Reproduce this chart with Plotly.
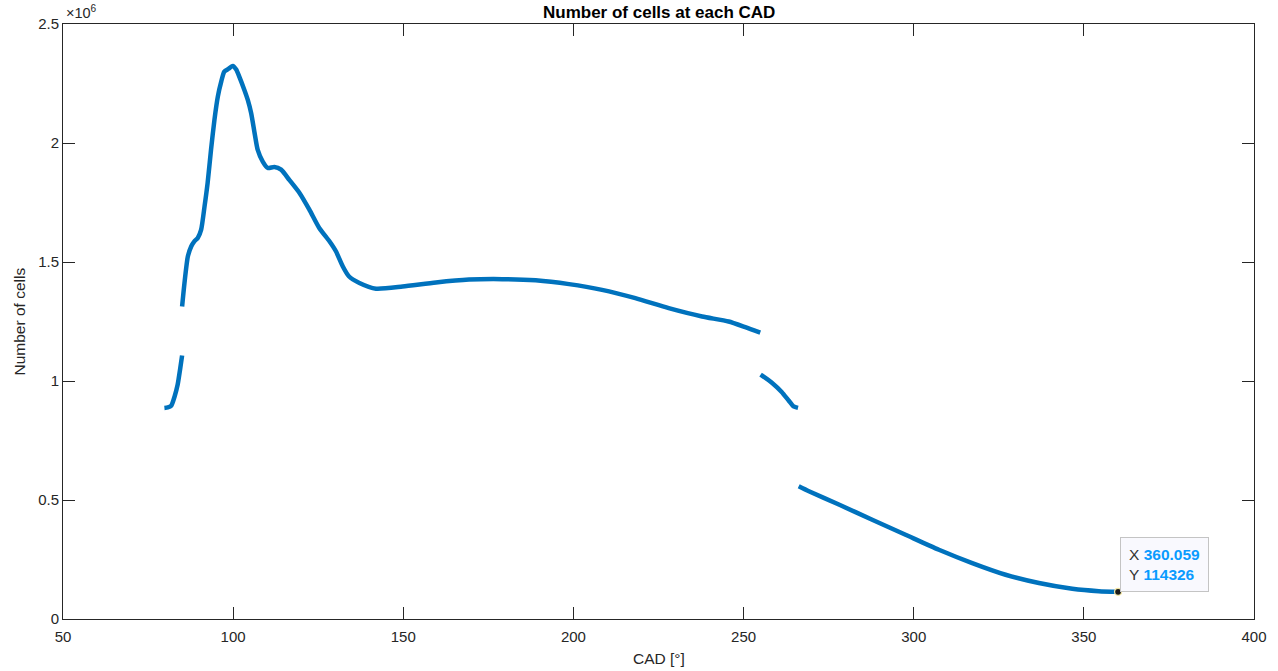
import plotly.graph_objects as go

# Cell count per crank angle degree, one list pair per continuous stretch
cad_seg1 = [79.8, 80.8, 81.8, 82.8, 83.7, 84.4, 85.0]
cells_seg1 = [887000, 889000, 896000, 935000, 985000, 1048000, 1107000]

cad_seg2 = [85.0, 85.7, 86.7, 87.7, 88.6, 89.6, 90.6, 91.6, 92.5, 93.5, 94.5,
            95.5, 96.5, 97.4, 98.7, 99.9, 100.9, 101.8, 103.3, 104.3, 105.3,
            106.3, 107.2, 108.7, 110.2, 112.1, 114.1, 116.5, 119.5, 122.4,
            125.3, 128.3, 130.2, 132.2, 134.0, 137.1, 142.0, 149.8, 159.6,
            169.3, 179.1, 188.9, 198.7, 208.4, 218.2, 228.0, 237.8, 245.6,
            250.5, 254.9]
cells_seg2 = [1313000, 1412000, 1524000, 1566000, 1587000, 1601000, 1636000,
              1734000, 1832000, 1972000, 2097000, 2195000, 2258000, 2300000,
              2312000, 2324000, 2309000, 2279000, 2223000, 2181000, 2125000,
              2042000, 1972000, 1922000, 1895000, 1899000, 1888000, 1845000,
              1790000, 1720000, 1643000, 1587000, 1545000, 1482000, 1440000,
              1412000, 1388000, 1397000, 1414000, 1426000, 1428000, 1423000,
              1407000, 1383000, 1348000, 1306000, 1271000, 1250000, 1226000,
              1203000]

cad_seg3 = [255.0, 258.4, 261.2, 263.3, 264.7, 266.0]
cells_seg3 = [1027000, 992000, 954000, 917000, 893000, 887000]

cad_seg4 = [266.2, 269.2, 278.0, 287.8, 297.6, 307.4, 317.2, 327.0, 336.8,
            346.6, 354.4, 360.059]
cells_seg4 = [558000, 537000, 481000, 417000, 354000, 291000, 235000, 186000,
              151000, 127000, 117000, 114326]

x_ticks = [50, 100, 150, 200, 250, 300, 350, 400]
y_ticks = [0, 500000, 1000000, 1500000, 2000000, 2500000]
y_tick_text = ["0", "0.5", "1", "1.5", "2", "2.5"]

segments = [(cad_seg1, cells_seg1), (cad_seg2, cells_seg2),
            (cad_seg3, cells_seg3), (cad_seg4, cells_seg4)]

LINE = "#0072BD"
AXIS = "#262626"
FONT = "Liberation Sans, Arial, Helvetica, sans-serif"

fig = go.Figure()
for sx, sy in segments:
    fig.add_trace(go.Scatter(x=sx, y=sy, mode="lines",
                             line=dict(color=LINE, width=4.5, shape="spline",
                                       smoothing=0.6),
                             hoverinfo="skip"))

# data tip on the last sample
tip_x, tip_y = cad_seg4[-1], cells_seg4[-1]
fig.add_trace(go.Scatter(x=[tip_x], y=[tip_y], mode="markers",
                         marker=dict(size=7, color="#1a1a1a",
                                     line=dict(color="#f3e7a6", width=1.2)),
                         hoverinfo="skip"))

blue = "#0a9bff"
tip_text = (f"X <b><span style='color:{blue}'>{tip_x:g}</span></b><br>"
            f"Y <b><span style='color:{blue}'>{tip_y:d}</span></b>")

axis_common = dict(showline=True, linecolor=AXIS, linewidth=1, mirror="ticks",
                   ticks="inside", ticklen=12, tickcolor=AXIS, tickwidth=1,
                   showgrid=False, zeroline=False,
                   tickfont=dict(family=FONT, size=15, color=AXIS))

fig.update_layout(
    width=1278, height=671,
    margin=dict(l=63, r=24, t=24, b=52),
    paper_bgcolor="white", plot_bgcolor="white",
    showlegend=False,
    xaxis=dict(range=[50, 400], tickvals=x_ticks, ticklabelstandoff=4,
               **axis_common),
    yaxis=dict(range=[0, 2500000], tickvals=y_ticks, ticktext=y_tick_text,
               **axis_common),
    annotations=[
        dict(text="<b>Number of cells at each CAD</b>", xref="paper",
             yref="paper", x=0.5, y=1, xanchor="center", yanchor="middle",
             yshift=12, showarrow=False,
             font=dict(family=FONT, size=17, color="black")),
        dict(text="CAD [°]", xref="paper", yref="paper", x=0.5, y=0,
             xanchor="center", yanchor="middle", yshift=-39, showarrow=False,
             font=dict(family=FONT, size=15.5, color=AXIS)),
        dict(text="Number of cells", xref="paper", yref="paper", x=0, y=0.5,
             xanchor="center", yanchor="middle", xshift=-44, textangle=-90,
             showarrow=False, font=dict(family=FONT, size=15.5, color=AXIS)),
        dict(text="×10<sup>6</sup>", xref="paper", yref="paper", x=0, y=1,
             xanchor="left", yanchor="bottom", xshift=1, yshift=1,
             showarrow=False, font=dict(family=FONT, size=14.5, color=AXIS)),
        dict(text=tip_text, xref="x", yref="y", x=tip_x, y=tip_y,
             xanchor="left", yanchor="bottom", xshift=2, yshift=0,
             showarrow=False, align="left", bgcolor="#f9f9fe",
             bordercolor="#c4c4c4", borderwidth=1, borderpad=8,
             font=dict(family=FONT, size=15.5, color="#333333")),
    ],
)

fig.write_html("out.html")
